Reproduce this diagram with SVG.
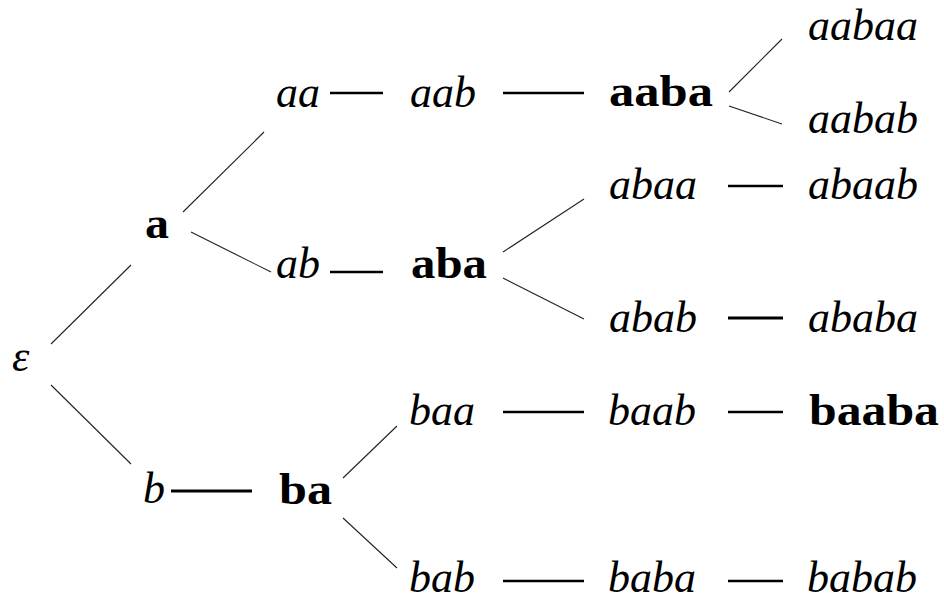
<svg xmlns="http://www.w3.org/2000/svg" width="944" height="602" viewBox="0 0 944 602">
<style>
.it{font-family:"Liberation Serif","DejaVu Serif",serif;font-style:italic;font-size:44px;fill:#000}
.bd{font-family:"Liberation Serif","DejaVu Serif",serif;font-weight:bold;font-size:44px;fill:#000}
.d{stroke:#222;stroke-width:1.1;fill:none}
.h{stroke:#000;stroke-width:2.4;fill:none}
</style>
<rect width="944" height="602" fill="#fff"/>
<g id="connectors">
<line class="d" x1="51" y1="344" x2="131" y2="265"/>
<line class="d" x1="51" y1="385" x2="131" y2="464"/>
<line class="d" x1="183" y1="212" x2="264" y2="132"/>
<line class="d" x1="191" y1="232" x2="271" y2="272"/>
<line class="h" x1="330" y1="93" x2="383" y2="93"/>
<line class="h" x1="330" y1="272" x2="383" y2="272"/>
<line class="h" x1="171" y1="491" x2="252" y2="491" style="stroke-width:3.2"/>
<line class="d" x1="343" y1="478" x2="397" y2="426"/>
<line class="d" x1="343" y1="518" x2="397" y2="568"/>
<line class="h" x1="503" y1="93" x2="584" y2="93"/>
<line class="d" x1="503" y1="252" x2="584" y2="199"/>
<line class="d" x1="503" y1="278" x2="584" y2="319"/>
<line class="h" x1="503" y1="412" x2="584" y2="412"/>
<line class="h" x1="503" y1="581" x2="584" y2="581"/>
<line class="d" x1="729" y1="92" x2="782" y2="39"/>
<line class="d" x1="729" y1="106" x2="782" y2="124"/>
<line class="h" x1="728" y1="186" x2="783" y2="186"/>
<line class="h" x1="728" y1="318" x2="783" y2="318" style="stroke-width:3"/>
<line class="h" x1="728" y1="412" x2="783" y2="412"/>
<line class="h" x1="728" y1="581" x2="783" y2="581"/>
</g>
<g id="n-eps"><text class="it" x="12" y="371">ε</text></g>
<g id="n-a"><text class="bd" x="145" y="238" textLength="24" lengthAdjust="spacingAndGlyphs">a</text></g>
<g id="n-b"><text class="it" x="143" y="503">b</text></g>
<g id="n-aa"><text class="it" x="276" y="107">aa</text></g>
<g id="n-ab"><text class="it" x="276" y="278">ab</text></g>
<g id="n-ba"><text class="bd" x="279" y="504" textLength="53" lengthAdjust="spacingAndGlyphs">ba</text></g>
<g id="n-aab"><text class="it" x="410" y="107">aab</text></g>
<g id="n-aba"><text class="bd" x="411" y="278" textLength="76" lengthAdjust="spacingAndGlyphs">aba</text></g>
<g id="n-baa"><text class="it" x="409" y="425">baa</text></g>
<g id="n-bab"><text class="it" x="409" y="592">bab</text></g>
<g id="n-aaba"><text class="bd" x="609" y="106" textLength="104" lengthAdjust="spacingAndGlyphs">aaba</text></g>
<g id="n-abaa"><text class="it" x="609" y="199">abaa</text></g>
<g id="n-abab"><text class="it" x="609" y="332">abab</text></g>
<g id="n-baab"><text class="it" x="608" y="425">baab</text></g>
<g id="n-baba"><text class="it" x="608" y="592">baba</text></g>
<g id="n-aabaa"><text class="it" x="808" y="40">aabaa</text></g>
<g id="n-aabab"><text class="it" x="808" y="133">aabab</text></g>
<g id="n-abaab"><text class="it" x="808" y="199">abaab</text></g>
<g id="n-ababa"><text class="it" x="808" y="332">ababa</text></g>
<g id="n-baaba"><text class="bd" x="809" y="425" textLength="130" lengthAdjust="spacingAndGlyphs">baaba</text></g>
<g id="n-babab"><text class="it" x="807" y="592">babab</text></g>
</svg>
